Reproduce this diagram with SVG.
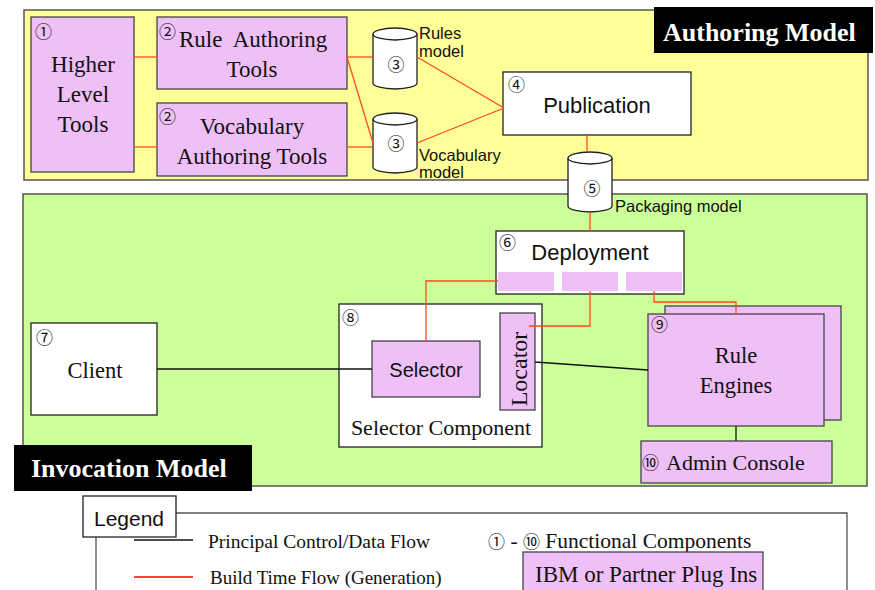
<svg xmlns="http://www.w3.org/2000/svg" width="875" height="590" viewBox="0 0 875 590">
<style>
.panel{stroke:#555;stroke-width:1.5}
.pink{fill:#efbff8;stroke:#444;stroke-width:1.3}
.white{fill:#fff;stroke:#222;stroke-width:1.3}
.serif{font-family:"Liberation Serif","Times New Roman",serif;fill:#111}
.sans{font-family:"Liberation Sans",Arial,sans-serif;fill:#111}
.num{font-family:"Noto Sans CJK JP","DejaVu Sans",sans-serif;fill:#111;font-size:17px}
.red{stroke:#ff4a1c;stroke-width:1.3;fill:none}
.blk{stroke:#111;stroke-width:1.3;fill:none}
.cyl{fill:#fff;stroke:#222;stroke-width:1.3}
.label{font-family:"Liberation Serif","Times New Roman",serif;font-weight:bold;fill:#fff;font-size:26px}
</style>
<rect width="875" height="590" fill="#fff"/>
<g id="authoring-model">
<rect class="panel" x="24" y="10" width="844" height="170" fill="#ffff99"/>
<rect x="654" y="7" width="219" height="46" fill="#000"/>
<text class="label" x="663" y="41">Authoring Model</text>
</g>
<g id="invocation-model">
<rect class="panel" x="23" y="194" width="844" height="292" fill="#ccff99"/>
</g>
<g id="higher-level-tools">
<rect class="pink" x="31" y="17" width="103" height="155"/>
<text class="num" x="35" y="38">①</text>
<text class="serif" font-size="23" text-anchor="middle" x="83" y="72">Higher</text>
<text class="serif" font-size="23" text-anchor="middle" x="83" y="102">Level</text>
<text class="serif" font-size="23" text-anchor="middle" x="83" y="132">Tools</text>
</g>
<g id="rule-authoring-tools">
<rect class="pink" x="157" y="17" width="190" height="72"/>
<text class="num" x="159" y="38">②</text>
<text class="serif" font-size="23" x="179" y="47" xml:space="preserve">Rule  Authoring</text>
<text class="serif" font-size="23" text-anchor="middle" x="252" y="77">Tools</text>
</g>
<g id="vocabulary-authoring-tools">
<rect class="pink" x="157" y="103" width="190" height="73"/>
<text class="num" x="159" y="123">②</text>
<text class="serif" font-size="23" text-anchor="middle" x="252" y="134">Vocabulary</text>
<text class="serif" font-size="23" text-anchor="middle" x="252" y="164">Authoring Tools</text>
</g>
<g id="rules-model">
<path class="cyl" d="M373,34 V83 A22,6 0 0 0 417,83 V34"/>
<ellipse class="cyl" cx="395" cy="34" rx="22" ry="6"/>
<text class="num" x="396" y="71" text-anchor="middle" font-size="18">③</text>
<text class="sans" font-size="16.5" x="419" y="39">Rules</text>
<text class="sans" font-size="16.5" x="419" y="57">model</text>
</g>
<g id="vocabulary-model">
<path class="cyl" d="M373,119 V167 A22,6 0 0 0 417,167 V119"/>
<ellipse class="cyl" cx="395" cy="119" rx="22" ry="6"/>
<text class="num" x="396" y="150" text-anchor="middle" font-size="18">③</text>
<text class="sans" font-size="16.5" x="419" y="161">Vocabulary</text>
<text class="sans" font-size="16.5" x="419" y="178">model</text>
</g>
<g id="publication">
<rect class="white" x="503" y="72" width="188" height="63"/>
<text class="num" x="508" y="91">④</text>
<text class="sans" font-size="22" text-anchor="middle" x="597" y="113">Publication</text>
</g>
<g id="packaging-model">
<path class="cyl" d="M568,158 V206 A22,6 0 0 0 612,206 V158"/>
<ellipse class="cyl" cx="590" cy="158" rx="22" ry="6"/>
<text class="num" x="592" y="195" text-anchor="middle" font-size="18">⑤</text>
<text class="sans" font-size="16.5" x="615" y="212">Packaging model</text>
</g>
<g id="deployment">
<rect class="white" x="496" y="231" width="188" height="63"/>
<text class="num" x="499" y="249">⑥</text>
<text class="sans" font-size="22" text-anchor="middle" x="590" y="260">Deployment</text>
<rect x="498" y="272" width="56" height="19" fill="#efbff8"/>
<rect x="562" y="272" width="56" height="19" fill="#efbff8"/>
<rect x="626" y="272" width="56" height="19" fill="#efbff8"/>
</g>
<g id="client">
<rect class="white" x="31" y="323" width="126" height="92"/>
<text class="num" x="36" y="344">⑦</text>
<text class="serif" font-size="22.5" text-anchor="middle" x="95" y="378">Client</text>
</g>
<g id="selector-component">
<rect class="white" x="339" y="304" width="203" height="143"/>
<text class="num" x="342" y="324">⑧</text>
<text class="serif" font-size="22" text-anchor="middle" x="441" y="435">Selector Component</text>
</g>
<g id="selector">
<rect class="pink" x="372" y="341" width="108" height="56"/>
<text class="sans" font-size="20" text-anchor="middle" x="426" y="377">Selector</text>
</g>
<g id="locator">
<rect class="pink" x="500" y="313" width="35" height="97"/>
<text class="serif" font-size="24" text-anchor="middle" transform="translate(527,369) rotate(-90)">Locator</text>
</g>
<g id="rule-engines">
<rect class="pink" x="665" y="306" width="176" height="114"/>
<rect class="pink" x="648" y="314" width="176" height="112"/>
<text class="num" x="651" y="331">⑨</text>
<text class="serif" font-size="22.5" text-anchor="middle" x="736" y="363">Rule</text>
<text class="serif" font-size="22.5" text-anchor="middle" x="736" y="393">Engines</text>
</g>
<g id="admin-console">
<rect class="pink" x="641" y="441" width="191" height="42"/>
<text class="num" x="642" y="469">⑩</text>
<text class="serif" font-size="22" x="666" y="470">Admin Console</text>
</g>
<g id="invocation-label">
<rect x="14" y="445" width="238" height="46" fill="#000"/>
<text class="label" x="31" y="477">Invocation Model</text>
</g>
<g id="connectors">
<line class="red" x1="134" y1="57" x2="157" y2="57"/>
<line class="red" x1="134" y1="147" x2="157" y2="147"/>
<line class="red" x1="347" y1="57" x2="373" y2="57"/>
<line class="red" x1="347" y1="57" x2="373" y2="143"/>
<line class="red" x1="347" y1="147" x2="373" y2="147"/>
<line class="red" x1="417" y1="57" x2="504" y2="108"/>
<line class="red" x1="417" y1="143" x2="504" y2="108"/>
<line class="red" x1="587" y1="135" x2="587" y2="152"/>
<line class="red" x1="590" y1="212" x2="590" y2="231"/>
<polyline class="red" points="498,281 426,281 426,341"/>
<polyline class="red" points="590,291 590,326 529,326"/>
<polyline class="red" points="654,291 654,302 736,302 736,314"/>
<line class="blk" x1="157" y1="369" x2="372" y2="369"/>
<line class="blk" x1="535" y1="362" x2="648" y2="370"/>
<line class="blk" x1="736" y1="426" x2="736" y2="441"/>
</g>
<g id="legend">
<polyline points="96,596 96,513 847,513 847,596" fill="#fff" stroke="#555" stroke-width="1.3"/>
<rect x="83" y="496" width="93" height="41" fill="#fff" stroke="#222" stroke-width="1.3"/>
<text class="sans" font-size="21" text-anchor="middle" x="129" y="526">Legend</text>
<line x1="134" y1="540" x2="193" y2="540" stroke="#111" stroke-width="1.3"/>
<text class="serif" font-size="19.5" x="208" y="548">Principal Control/Data Flow</text>
<line x1="134" y1="577" x2="193" y2="577" stroke="#ff0000" stroke-width="1.3"/>
<text class="serif" font-size="19" x="210" y="584">Build Time Flow (Generation)</text>
<text class="serif" font-size="21.5" x="488" y="548"><tspan class="num" font-size="18">①</tspan> - <tspan class="num" font-size="18">⑩</tspan> Functional Components</text>
<rect class="pink" x="523" y="552" width="240" height="44"/>
<text class="serif" font-size="23" x="535" y="582">IBM or Partner Plug Ins</text>
</g>
</svg>
